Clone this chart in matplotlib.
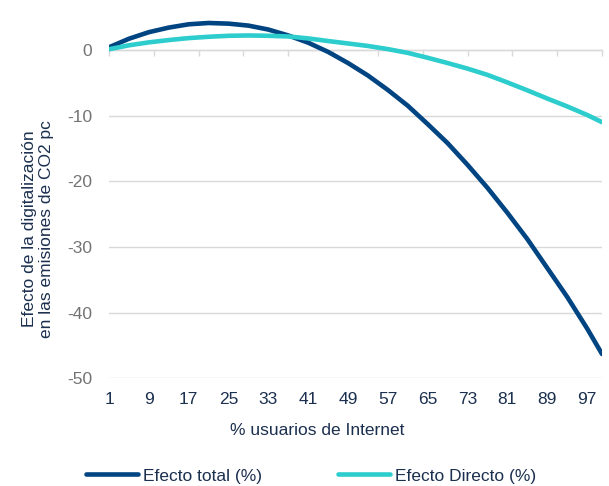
import matplotlib
matplotlib.use("Agg")
import matplotlib.pyplot as plt

plt.rcParams['font.family'] = ['Liberation Sans', 'DejaVu Sans']

# % of Internet users (category positions on the x axis)
pct_users = [1, 5, 9, 13, 17, 21, 25, 29, 33, 37, 41, 45, 49, 53, 57,
             61, 65, 69, 73, 77, 81, 85, 89, 93, 97, 100]

# Effect of digitalisation on per-capita CO2 emissions (%)
efecto_total = [0.4, 1.7, 2.7, 3.4, 3.9, 4.1, 4.0, 3.7, 3.1, 2.2, 1.1, -0.3,
                -2.0, -3.9, -6.1, -8.5, -11.3, -14.2, -17.5, -21.0, -24.8,
                -28.8, -33.2, -37.6, -42.4, -46.3]
efecto_directo = [0.1, 0.7, 1.15, 1.5, 1.8, 2.0, 2.15, 2.2, 2.15, 2.05, 1.75,
                  1.35, 0.98, 0.6, 0.12, -0.45, -1.2, -2.0, -2.85, -3.8,
                  -4.95, -6.15, -7.4, -8.6, -9.9, -11.0]

series_names = ["Efecto total (%)", "Efecto Directo (%)"]
x_tick_labels = [1, 9, 17, 25, 33, 41, 49, 57, 65, 73, 81, 89, 97]
x_tick_marks = list(range(1, 101, 9))
y_ticks = [0, -10, -20, -30, -40, -50]

NAVY = "#004481"
AQUA = "#2DCCCD"
TEXT_NAVY = "#1B2F4E"
GRAY_TEXT = "#737373"
GRID = "#D9D9D9"
FS = 12.5

W, H = 609, 486
fig = plt.figure(figsize=(W / 100, H / 100), dpi=100)
ax = fig.add_axes([109 / W, 1 - 378.3 / H, (602 - 109) / W, 378.3 / H])

l1, = ax.plot(pct_users, efecto_total, color=NAVY, lw=3.3,
              solid_capstyle="round", solid_joinstyle="round", zorder=3)
l2, = ax.plot(pct_users, efecto_directo, color=AQUA, lw=3.3,
              solid_capstyle="round", solid_joinstyle="round", zorder=3)

ax.set_xlim(1, 100)
ax.set_ylim(-50, 7.6)

# horizontal gridlines
ax.set_yticks(y_ticks)
ax.set_yticklabels([str(v) for v in y_ticks])
ax.yaxis.grid(True, color=GRID, lw=1.0)
ax.set_axisbelow(True)
ax.tick_params(axis="y", length=0, pad=12, labelsize=FS, labelcolor=GRAY_TEXT)

for side in ("top", "right", "left"):
    ax.spines[side].set_visible(False)

# category axis crossing at zero, with its tick marks
ax.spines["bottom"].set_position(("data", 0))
ax.spines["bottom"].set_color(GRID)
ax.spines["bottom"].set_linewidth(1.0)
ax.set_xticks(x_tick_marks)
ax.tick_params(axis="x", direction="out", length=4, width=1.0, color=GRID,
               labelbottom=False)

# category labels placed low, under the plot area
sec = ax.secondary_xaxis("bottom")
sec.set_xticks(x_tick_labels)
sec.set_xticklabels([str(v) for v in x_tick_labels])
sec.tick_params(length=0, pad=10, labelsize=FS, labelcolor=TEXT_NAVY)
sec.spines["bottom"].set_visible(False)

fig.text(317 / W, 1 - 430 / H, "% usuarios de Internet", ha="center",
         va="center", fontsize=FS, color=TEXT_NAVY)

fig.text(38 / W, 1 - 229 / H,
         "Efecto de la digitalización\nen las emisiones de CO2 pc",
         rotation=90, ha="center", va="center", multialignment="center",
         fontsize=FS, color=TEXT_NAVY, linespacing=1.2)

leg = fig.legend([l1, l2], series_names, loc="center",
                 bbox_to_anchor=(311 / W, 1 - 476 / H), ncol=2, frameon=False,
                 fontsize=FS, handlelength=3.0, handletextpad=0.25,
                 columnspacing=4.4, labelcolor=TEXT_NAVY)

fig.savefig("out.png", dpi=100)
